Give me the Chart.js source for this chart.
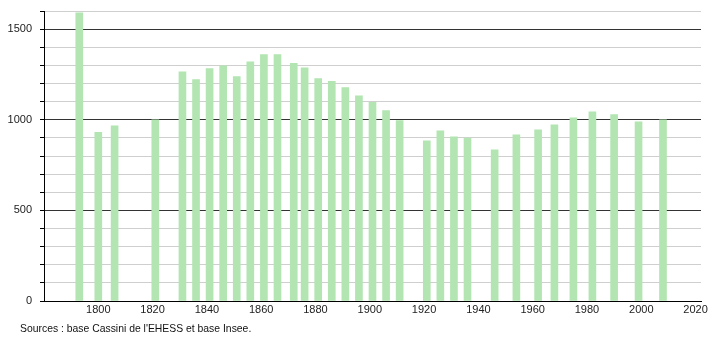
<!DOCTYPE html>
<html>
<head>
<meta charset="utf-8">
<script src="https://cdn.jsdelivr.net/npm/chart.js@4/dist/chart.umd.min.js"></script>
<style>
  body { margin: 0; background: #fff; }
  #wrap { position: relative; width: 710px; height: 340px; }
  #source { position: absolute; left: 20px; top: 323px; font: 10.4px "Liberation Sans", Arial, sans-serif; color: #111; }
</style>
</head>
<body>
<div id="wrap">
  <canvas id="popChart" width="710" height="340"></canvas>
  <div id="source">Sources : base Cassini de l'EHESS et base Insee.</div>
</div>
<script>
let years = [1793, 1800, 1806, 1821, 1831, 1836, 1841, 1846, 1851, 1856, 1861, 1866, 1872, 1876, 1881, 1886, 1891, 1896,
    1901, 1906, 1911, 1921, 1926, 1931, 1936, 1946, 1954, 1962, 1968, 1975, 1982, 1990, 1999, 2008];
let population = [1590, 930, 967, 1000, 1265, 1221, 1282, 1297, 1238, 1320, 1359, 1359, 1311, 1287, 1227, 1212, 1177, 1132,
    1096, 1050, 995, 884, 939, 906, 899, 834, 917, 945, 972, 1011, 1044, 1028, 989, 1000];
let xTickLabels = [1800, 1820, 1840, 1860, 1880, 1900, 1920, 1940, 1960, 1980, 2000, 2020];
let yTickLabels = [0, 500, 1000, 1500];

let points = years.map((y, i) => ({ x: y, y: population[i] }));

let ctx = document.getElementById("popChart").getContext("2d");
let popChart = new Chart(ctx, {
    type: "bar",
    data: {
        datasets: [{
            data: points,
            backgroundColor: 'rgb(178,229,178)',
            barThickness: 7,
            borderWidth: 0
        }]
    },
    options: {
        responsive: false,
        animation: false,
        layout: { padding: { top: 11, right: 9, left: 0, bottom: 0 } },
        plugins: {
            legend: { display: false },
            tooltip: { enabled: false }
        },
        scales: {
            x: {
                type: "linear",
                offset: false,
                min: 1780,
                max: 2022,
                afterBuildTicks: (scale) => {
                    scale.ticks = xTickLabels.map(v => ({ value: v }));
                },
                afterFit: (scale) => { scale.height = 39; },
                ticks: {
                    font: { family: "Liberation Sans", size: 11 },
                    color: '#222',
                    padding: 2,
                    maxRotation: 0,
                    autoSkip: false,
                    callback: (v) => String(v)
                },
                grid: { display: false, drawTicks: false },
                border: { display: true, color: '#000', width: 1 }
            },
            y: {
                min: 0,
                max: 1600,
                ticks: {
                    stepSize: 100,
                    font: { family: "Liberation Sans", size: 11 },
                    color: '#222',
                    padding: 8,
                    callback: (v) => yTickLabels.includes(v) ? String(v) : ''
                },
                afterFit: (scale) => {
                    scale.width = 44;
                    scale.paddingTop = 0;
                    scale.paddingBottom = 0;
                },
                grid: {
                    color: (c) => c.tick && c.tick.value % 500 === 0 ? '#333' : '#cfcfcf',
                    tickColor: '#000',
                    tickLength: 4
                },
                border: { display: true, color: '#000', width: 1 }
            }
        }
    }
});
</script>
</body>
</html>
